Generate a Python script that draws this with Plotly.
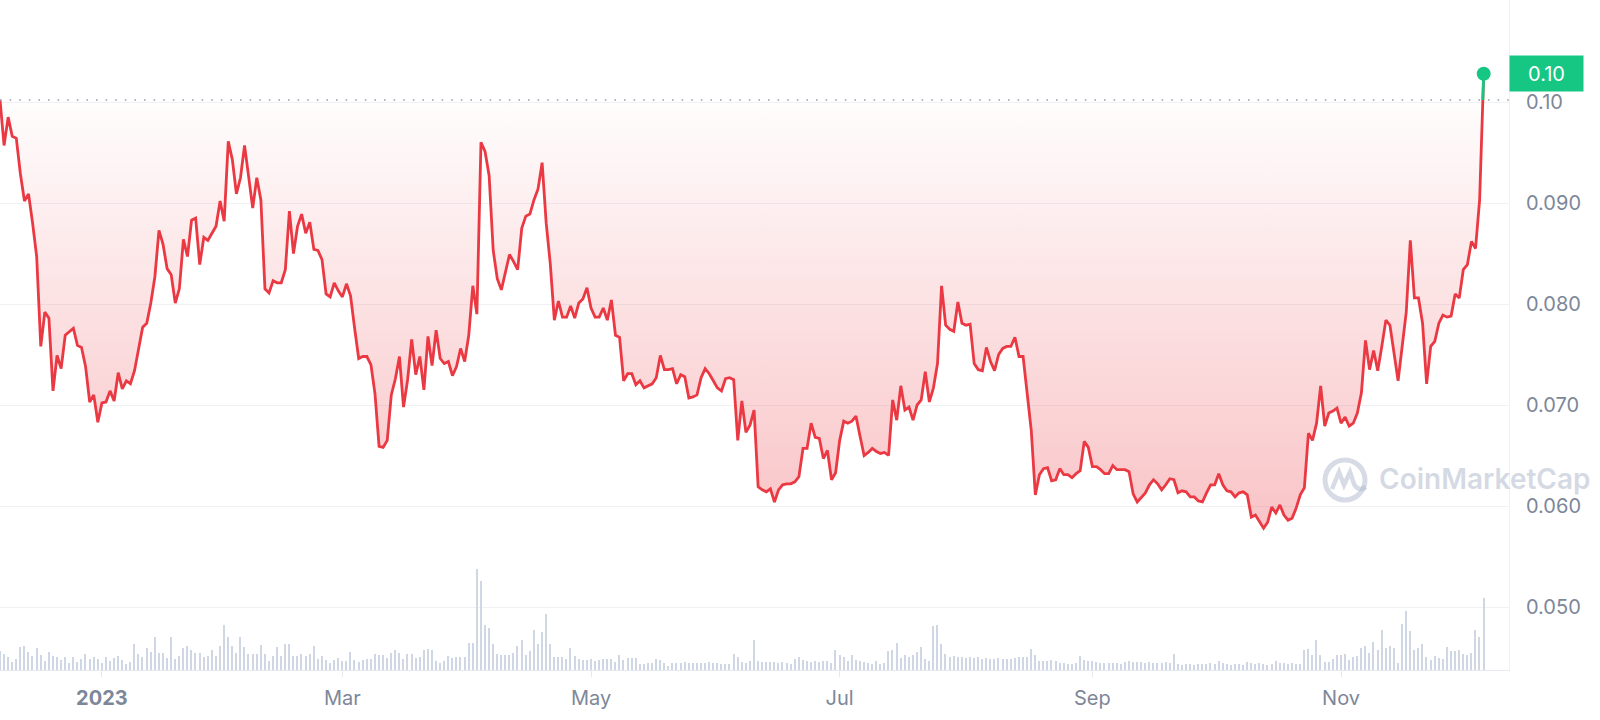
import plotly.graph_objects as go
import pandas as pd
import numpy as np

start_date = "2022-12-07"

price = [
    0.1002, 0.0957, 0.0985, 0.0966, 0.0964, 0.0929, 0.0902, 0.0909, 0.0880, 0.0847,
    0.0758, 0.0792, 0.0786, 0.0714, 0.0749, 0.0736, 0.0769, 0.0773, 0.0776, 0.0759,
    0.0757, 0.0738, 0.0703, 0.0710, 0.0683, 0.0702, 0.0703, 0.0714, 0.0704, 0.0732,
    0.0716, 0.0724, 0.0721, 0.0734, 0.0754, 0.0777, 0.0781, 0.0801, 0.0827, 0.0873,
    0.0859, 0.0835, 0.0829, 0.0801, 0.0815, 0.0864, 0.0847, 0.0883, 0.0885, 0.0839,
    0.0866, 0.0863, 0.0870, 0.0877, 0.0902, 0.0882, 0.0961, 0.0943, 0.0909, 0.0925,
    0.0957, 0.0926, 0.0895, 0.0925, 0.0903, 0.0815, 0.0811, 0.0823, 0.0821, 0.0821,
    0.0834, 0.0892, 0.0850, 0.0877, 0.0889, 0.0870, 0.0881, 0.0854, 0.0853, 0.0844,
    0.0810, 0.0807, 0.0821, 0.0813, 0.0807, 0.0820, 0.0808, 0.0776, 0.0746, 0.0748,
    0.0748, 0.0740, 0.0711, 0.0659, 0.0658, 0.0665, 0.0710, 0.0726, 0.0748, 0.0698,
    0.0725, 0.0765, 0.0730, 0.0748, 0.0715, 0.0768, 0.0739, 0.0774, 0.0746, 0.0741,
    0.0743, 0.0729, 0.0738, 0.0756, 0.0743, 0.0769, 0.0818, 0.0790, 0.0960, 0.0951,
    0.0927, 0.0853, 0.0825, 0.0814, 0.0832, 0.0849, 0.0842, 0.0834, 0.0875, 0.0887,
    0.0889, 0.0903, 0.0914, 0.0940, 0.0880, 0.0840, 0.0784, 0.0803, 0.0787, 0.0787,
    0.0798, 0.0786, 0.0801, 0.0805, 0.0816, 0.0796, 0.0787, 0.0787, 0.0796, 0.0784,
    0.0804, 0.0769, 0.0767, 0.0724, 0.0731, 0.0731, 0.0720, 0.0724, 0.0717, 0.0719,
    0.0721, 0.0727, 0.0749, 0.0735, 0.0735, 0.0736, 0.0721, 0.0730, 0.0728, 0.0707,
    0.0708, 0.0710, 0.0727, 0.0736, 0.0731, 0.0724, 0.0717, 0.0714, 0.0726, 0.0727,
    0.0725, 0.0665, 0.0704, 0.0673, 0.0680, 0.0695, 0.0619, 0.0616, 0.0614, 0.0617,
    0.0604, 0.0616, 0.0621, 0.0622, 0.0622, 0.0624, 0.0629, 0.0657, 0.0657, 0.0682,
    0.0668, 0.0667, 0.0647, 0.0655, 0.0626, 0.0633, 0.0665, 0.0684, 0.0682, 0.0684,
    0.0689, 0.0669, 0.0650, 0.0653, 0.0657, 0.0654, 0.0652, 0.0653, 0.0650, 0.0705,
    0.0685, 0.0719, 0.0695, 0.0698, 0.0685, 0.0700, 0.0705, 0.0733, 0.0703, 0.0717,
    0.0741, 0.0818, 0.0779, 0.0775, 0.0773, 0.0802, 0.0781, 0.0779, 0.0780, 0.0741,
    0.0735, 0.0734, 0.0757, 0.0743, 0.0734, 0.0750, 0.0756, 0.0758, 0.0758, 0.0767,
    0.0748, 0.0748, 0.0708, 0.0675, 0.0611, 0.0631, 0.0637, 0.0638, 0.0625, 0.0626,
    0.0637, 0.0631, 0.0631, 0.0628, 0.0632, 0.0635, 0.0664, 0.0658, 0.0639, 0.0639,
    0.0636, 0.0632, 0.0632, 0.0640, 0.0636, 0.0636, 0.0636, 0.0634, 0.0612, 0.0604,
    0.0609, 0.0613, 0.0621, 0.0626, 0.0622, 0.0616, 0.0621, 0.0627, 0.0626, 0.0613,
    0.0615, 0.0614, 0.0609, 0.0609, 0.0605, 0.0604, 0.0613, 0.0621, 0.0621, 0.0632,
    0.0621, 0.0615, 0.0614, 0.0609, 0.0613, 0.0614, 0.0611, 0.0589, 0.0591, 0.0584,
    0.0578, 0.0584, 0.0599, 0.0593, 0.0601, 0.0591, 0.0586, 0.0588, 0.0598, 0.0611,
    0.0618, 0.0672, 0.0665, 0.0682, 0.0719, 0.0679, 0.0692, 0.0694, 0.0697, 0.0682,
    0.0688, 0.0679, 0.0682, 0.0692, 0.0712, 0.0764, 0.0735, 0.0754, 0.0734, 0.0758,
    0.0784, 0.0779, 0.0750, 0.0724, 0.0758, 0.0792, 0.0863, 0.0806, 0.0806, 0.0781,
    0.0721, 0.0758, 0.0763, 0.0781, 0.0789, 0.0787, 0.0788, 0.0810, 0.0806, 0.0834,
    0.0839, 0.0862, 0.0855, 0.0903, 0.1028,
]

# relative daily volume (arbitrary units)
volume = [
    19, 16, 13, 8, 11, 23, 24, 18, 14, 22, 15, 9, 18, 14, 13, 10, 13, 7, 13, 8,
    11, 16, 11, 13, 11, 7, 13, 9, 12, 14, 10, 6, 8,
    26, 16, 13, 22, 18, 33, 17, 17, 12, 33,
    11, 14, 22, 24, 20, 17, 17, 13, 14, 20,
    14, 24, 45, 33, 24, 17, 33, 23, 16, 16,
    16, 25, 16, 9, 14, 23, 14, 26, 26, 14,
    14, 16, 14, 16, 24, 11, 14, 10, 7, 10,
    12, 9, 9, 18, 10, 8, 10, 11, 11, 16,
    15, 15, 12, 17, 20, 17, 11, 16, 16, 12,
    13, 20, 21, 20, 9, 7, 9, 14, 12, 13,
    13, 13, 27, 27, 101, 89, 45, 42, 26, 16,
    15, 15, 15, 17, 24, 30, 15, 19, 40, 26,
    38, 56, 26, 13, 13, 13, 11, 22, 14, 11,
    10, 10, 11, 9, 10, 11, 11, 11, 8, 15,
    10, 12, 12, 12, 6, 6, 7, 7, 11, 10,
    7, 4, 7, 7, 7, 8, 7, 7, 7, 7,
    7, 8, 7, 7, 6, 6, 6, 16, 13, 8,
    7, 9, 30, 9, 8, 8, 8, 8, 7, 8,
    7, 6, 11,
    13, 10, 9, 8, 9, 8, 9, 9, 7, 20,
    15, 13, 9, 15, 10, 9, 8, 7, 6, 9,
    6, 7, 19, 20, 27, 12, 15, 13, 15, 18,
    23, 11, 9, 44, 45, 26, 16, 13, 14, 13,
    13, 12, 13, 12, 13, 11, 12, 11, 11, 12,
    11, 11, 11, 12, 13, 13, 13, 21, 15, 9,
    9, 9, 10, 9, 7, 7, 6, 6, 7, 14,
    10, 9, 9, 8, 7, 7, 7, 7, 7, 6,
    8, 9, 8, 8, 8, 7, 8, 7, 7, 7,
    8, 7, 16, 6, 5, 6, 6, 5, 6, 6,
    6, 7, 6, 9, 7, 6, 5, 6, 6, 5,
    8, 7, 6, 7, 6, 5, 6, 9, 7, 7,
    6, 7, 6, 6, 20, 21, 15, 30, 15, 8,
    8, 11, 15, 15, 16, 10, 13, 14, 22, 24,
    17, 28, 20, 40, 22, 24, 22, 7, 46, 59,
    39, 20, 22, 26, 13, 10, 14, 12, 11, 23,
    19, 19, 20, 16, 15, 17, 40, 33, 72,
]

tick_dates = ["2023-01-01", "2023-03-01", "2023-05-01", "2023-07-01", "2023-09-01", "2023-11-01"]
tick_labels = ["<b>2023</b>", "Mar", "May", "Jul", "Sep", "Nov"]
y_ticks = [0.05, 0.06, 0.07, 0.08, 0.09, 0.10]
y_labels = ["0.050", "0.060", "0.070", "0.080", "0.090", "0.10"]
last_label = "0.10"

RED = "#ea3943"
GREEN = "#16c784"
GRID = "#eff2f5"
TXT = "#7d8799"

dates = pd.date_range(start_date, periods=len(price), freq="D")
vdates = pd.date_range(start_date, periods=len(volume), freq="D")
base = price[0]

# crossing of the last segment with the opening-price baseline
t_prev, t_last = dates[-2], dates[-1]
frac = (base - price[-2]) / (price[-1] - price[-2])
t_cross = t_prev + (t_last - t_prev) * frac

fig = go.Figure()

fig.add_trace(go.Bar(
    x=vdates, y=volume, yaxis="y2",
    marker=dict(color="#cfd6e4", line=dict(width=0)),
    width=0.33 * 86400000, hoverinfo="skip",
))

fig.add_trace(go.Scatter(
    x=[dates[0], dates[-1]], y=[base, base], mode="lines",
    line=dict(width=0, color="rgba(0,0,0,0)"), hoverinfo="skip",
))

fig.add_trace(go.Scatter(
    x=dates, y=price, mode="lines",
    line=dict(color=RED, width=2.8),
    fill="tonexty",
    fillgradient=dict(
        type="vertical",
        start=min(price), stop=base,
        colorscale=[[0, "rgba(234,57,67,0.30)"], [1, "rgba(234,57,67,0.01)"]],
    ),
))

fig.add_trace(go.Scatter(
    x=[t_cross, t_last], y=[base, price[-1]], mode="lines",
    line=dict(color=GREEN, width=2.8), hoverinfo="skip",
))
fig.add_trace(go.Scatter(
    x=[t_last], y=[price[-1]], mode="markers",
    marker=dict(color=GREEN, size=14), hoverinfo="skip",
))

# dotted opening-price line
fig.add_shape(type="line", xref="paper", x0=0, x1=1, yref="y", y0=base, y1=base,
              line=dict(color="#9aa2b5", width=1.6, dash="1.6px,8px"), layer="above")

# watermark logo
fig.add_shape(type="circle", xref="paper", yref="paper",
              xsizemode="pixel", ysizemode="pixel",
              xanchor=1345 / 1509, yanchor=(670 - 480) / 670,
              x0=-20, x1=20, y0=-20, y1=20,
              line=dict(color="rgba(180,189,208,0.55)", width=5), layer="above")
fig.add_shape(type="path", xref="paper", yref="paper",
              xsizemode="pixel", ysizemode="pixel",
              xanchor=1345 / 1509, yanchor=(670 - 480) / 670,
              path="M -13,-9 L -6,8 L -1,-5 L 5,8 L 9,-4 Q 13,-12 21,-7",
              line=dict(color="rgba(180,189,208,0.55)", width=4.5), layer="above")

fig.add_annotation(
    xref="paper", yref="paper", x=1377 / 1509, y=(670 - 479) / 670,
    xanchor="left", yanchor="middle", showarrow=False,
    text="CoinMarketCap",
    font=dict(family="Inter", size=28, color="rgba(170,180,200,0.5)", weight=600),
)

fig.add_annotation(
    xref="paper", yref="y", x=1, y=price[-1], xanchor="left", yanchor="middle",
    showarrow=False, text=last_label, bgcolor=GREEN, borderpad=0,
    width=73, height=35, align="center",
    font=dict(family="Inter", size=20, color="white"),
)

fig.update_layout(
    width=1600, height=720,
    margin=dict(l=0, r=91, t=0, b=50),
    paper_bgcolor="white", plot_bgcolor="white",
    showlegend=False,
    font=dict(family="Inter", color=TXT),
    bargap=0,
    xaxis=dict(
        type="date",
        range=["2022-12-07", "2023-12-12 05:00"],
        tickvals=tick_dates, ticktext=tick_labels,
        tickfont=dict(family="Inter", size=20, color=TXT),
        showgrid=False, zeroline=False,
        showline=True, linecolor="#e6eaf0", linewidth=1,
        ticks="outside", ticklen=6, tickcolor="#e6eaf0",
        ticklabelstandoff=4,
    ),
    yaxis=dict(
        side="right",
        range=[0.043762, 0.110099],
        tickvals=y_ticks, ticktext=y_labels,
        tickfont=dict(family="Inter", size=20, color=TXT),
        showgrid=True, gridcolor=GRID, gridwidth=1,
        zeroline=False, showline=True, linecolor=GRID, linewidth=1,
        ticks="", ticklabelstandoff=12,
    ),
    yaxis2=dict(overlaying="y", range=[0, 670], visible=False, fixedrange=True),
)

fig.write_html(
    "out.html",
    config={"displayModeBar": False},
    post_script="document.body.style.margin='0';document.body.style.padding='0';",
)
